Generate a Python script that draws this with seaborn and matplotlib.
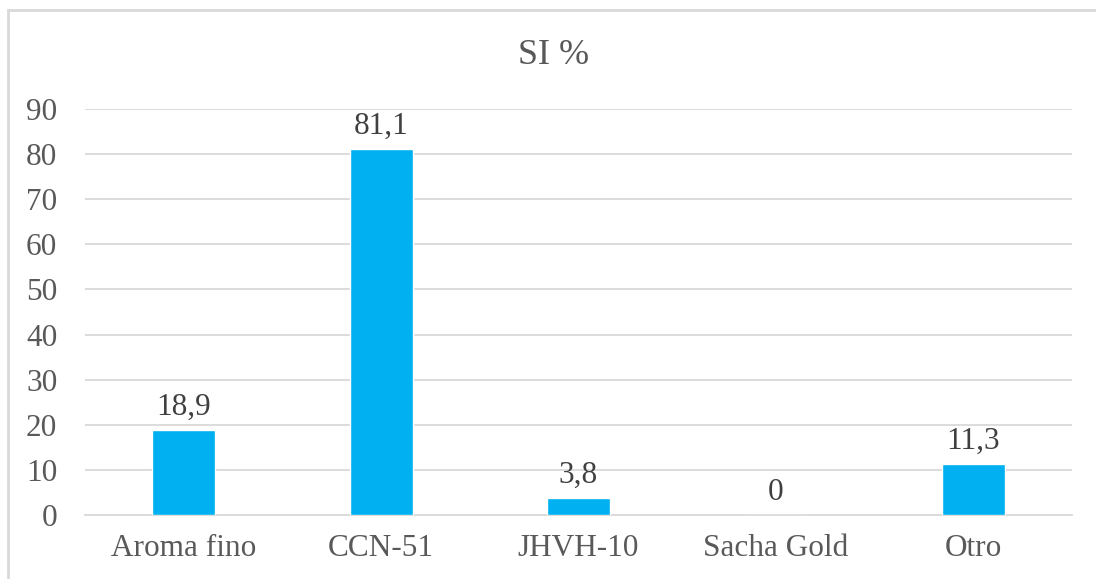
import numpy as np
import matplotlib
matplotlib.use("Agg")
import matplotlib.pyplot as plt
import seaborn as sns
from matplotlib.patches import Rectangle

# Data
categories = ["Aroma fino", "CCN-51", "JHVH-10", "Sacha Gold", "Otro"]
values = [18.9, 81.1, 3.8, 0, 11.3]
labels = ["18,9", "81,1", "3,8", "0", "11,3"]
yticks = [0, 10, 20, 30, 40, 50, 60, 70, 80, 90]

sns.set_style("white")
plt.rcParams['font.family'] = ['Liberation Serif', 'DejaVu Serif']

fig = plt.figure(figsize=(10.96, 5.79), dpi=100)
ax = fig.add_axes([85/1096, 1 - 515/579, 987/1096, (515 - 109)/579])

sns.barplot(x=categories, y=values, color="#00B0F0", width=0.32,
            saturation=1, ax=ax, zorder=3)

ax.set_ylim(0, 90)
ax.set_xlim(-0.5, 4.5)
ax.set_yticks(yticks)
ax.set_yticklabels([str(t) for t in yticks])
ax.yaxis.grid(True, color="#d9d9d9", linewidth=1.3, zorder=0)
ax.xaxis.grid(False)
for s in ["top", "right", "left"]:
    ax.spines[s].set_visible(False)
ax.spines["bottom"].set_color("#d9d9d9")
ax.spines["bottom"].set_linewidth(1.3)
ax.tick_params(axis="both", length=0, labelsize=22.5, labelcolor="#595959")
ax.tick_params(axis="y", pad=20)
ax.tick_params(axis="x", pad=14)
ax.set_xlabel("")
ax.set_ylabel("")

for i, (v, lab) in enumerate(zip(values, labels)):
    ax.annotate(lab, (i, v), xytext=(0, 6), textcoords="offset points",
                ha="center", va="bottom", fontsize=22.5, color="#404040")

fig.text(0.505, 1 - 56/579, "SI %", ha="center", va="center",
         fontsize=26, color="#595959")

fig.patches.append(Rectangle((8/1096, -0.1), 1.2, 1 - 10/579 + 0.1,
                             transform=fig.transFigure, fill=False,
                             edgecolor="#d9d9d9", linewidth=2))

fig.savefig("out.png", dpi=100)
